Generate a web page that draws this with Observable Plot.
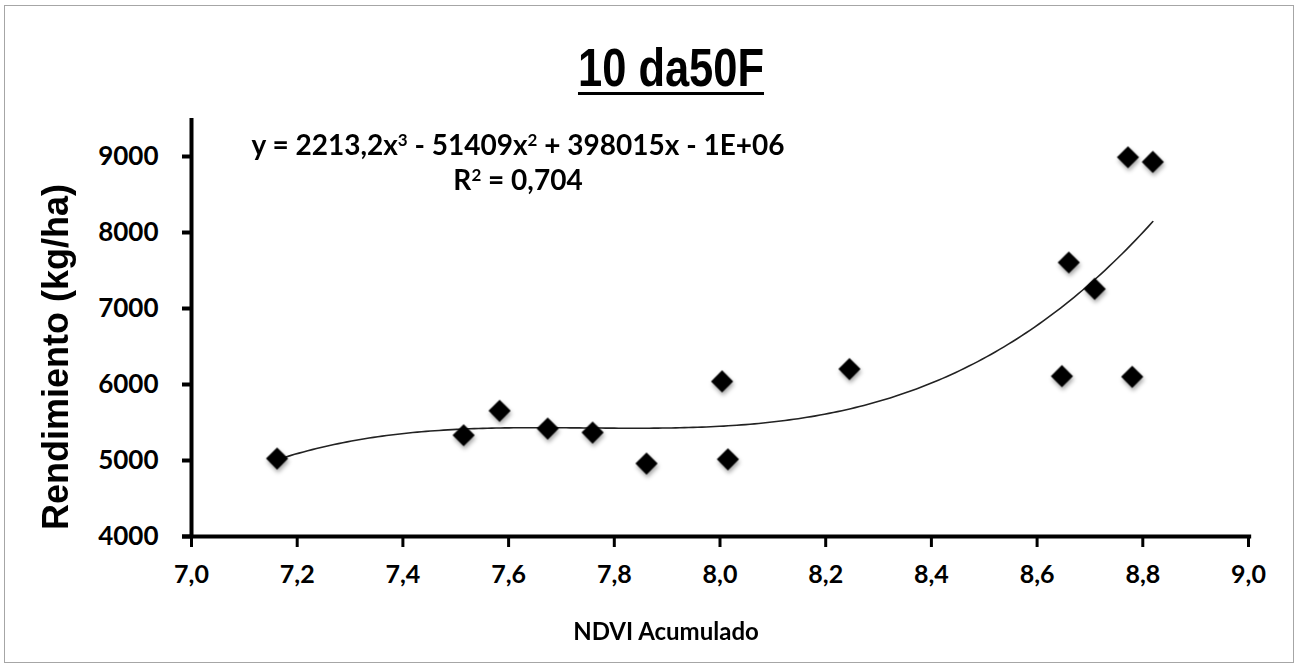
<!DOCTYPE html>
<html>
<head>
<meta charset="utf-8">
<script src="https://cdn.jsdelivr.net/npm/d3@7"></script>
<script src="https://cdn.jsdelivr.net/npm/@observablehq/plot@0.6"></script>
<style>
  html, body { margin: 0; padding: 0; background: #fff; }
  #wrap { position: relative; width: 1299px; height: 668px; overflow: hidden; }
  #border { position: absolute; left: 4px; top: 5px; width: 1290px; height: 658px; border: 1.5px solid #a6a6a6; box-sizing: border-box; }
  .t { position: absolute; white-space: nowrap; color: #000; }
  #title { left: 671px; top: 37px; transform: translateX(-50%) scaleX(0.82); font: bold 53px "Liberation Sans", Arial, sans-serif; text-decoration: underline; text-underline-offset: 6px; text-decoration-thickness: 3px; }
  #eq1 { left: 518px; top: 127px; transform: translateX(-50%); font: bold 28px Lato, "Open Sans", sans-serif; }
  #eq2 { left: 518px; top: 162px; transform: translateX(-50%); font: bold 28px Lato, "Open Sans", sans-serif; }
  sup { font-size: 17px; vertical-align: 9px; line-height: 0; }
  #ylab { left: 56px; top: 357px; transform: translate(-50%, -50%) rotate(-90deg); font: bold 36px "Liberation Sans", Arial, sans-serif; }
  #xlab { left: 666px; top: 616px; transform: translateX(-50%); font: bold 24px Lato, "Open Sans", sans-serif; }
  svg .dots { filter: drop-shadow(1px 3px 2px rgba(0,0,0,0.35)); }
  #chart { position: absolute; left: 0; top: 0; }
</style>
</head>
<body>
<div id="wrap">
  <div id="chart"></div>
  <div id="border"></div>
  <div class="t" id="title">10 da50F</div>
  <div class="t" id="eq1">y = 2213,2x<sup>3</sup> - 51409x<sup>2</sup> + 398015x - 1E+06</div>
  <div class="t" id="eq2">R<sup>2</sup> = 0,704</div>
  <div class="t" id="ylab">Rendimiento (kg/ha)</div>
  <div class="t" id="xlab">NDVI Acumulado</div>
</div>
<script>
const ndvi = [7.162, 7.515, 7.583, 7.674, 7.759, 7.861, 8.004, 8.015, 8.245, 8.647, 8.660, 8.709, 8.772, 8.780, 8.819];
const rendimiento = [5025, 5332, 5653, 5420, 5368, 4959, 6040, 5016, 6203, 6110, 7605, 7258, 8990, 6101, 8929];
const xTicks = [7.0, 7.2, 7.4, 7.6, 7.8, 8.0, 8.2, 8.4, 8.6, 8.8, 9.0];
const yTicks = [4000, 5000, 6000, 7000, 8000, 9000];

const points = ndvi.map((x, i) => ({x, y: rendimiento[i]}));

// least-squares cubic trendline fitted to the points (as the spreadsheet trendline)
function cubicFit(xs, ys) {
  const c = 8;
  const n = 4;
  const A = Array.from({length: n}, () => new Array(n + 1).fill(0));
  xs.forEach((x0, k) => {
    const x = x0 - c;
    const p = [1, x, x * x, x * x * x];
    for (let i = 0; i < n; i++) {
      for (let j = 0; j < n; j++) A[i][j] += p[i] * p[j];
      A[i][n] += p[i] * ys[k];
    }
  });
  for (let i = 0; i < n; i++) {
    let m = i;
    for (let r = i + 1; r < n; r++) if (Math.abs(A[r][i]) > Math.abs(A[m][i])) m = r;
    [A[i], A[m]] = [A[m], A[i]];
    for (let r = 0; r < n; r++) {
      if (r === i) continue;
      const f = A[r][i] / A[i][i];
      for (let j = i; j <= n; j++) A[r][j] -= f * A[i][j];
    }
  }
  const b = A.map((row, i) => row[n] / row[i]);
  return x => { const t = x - c; return b[0] + b[1] * t + b[2] * t * t + b[3] * t * t * t; };
}
const f = cubicFit(ndvi, rendimiento);
const x0 = d3.min(ndvi), x1 = d3.max(ndvi);
const curve = d3.range(0, 201).map(i => { const x = x0 + (x1 - x0) * i / 200; return {x, y: f(x)}; });

const fmtX = d => d.toFixed(1).replace(".", ",");
const fmtY = d => String(d);

const plot = Plot.plot({
  width: 1299,
  height: 668,
  marginLeft: 191,
  marginRight: 51,
  marginTop: 118,
  marginBottom: 132,
  style: {background: "transparent", overflow: "visible"},
  x: {domain: [7, 9]},
  y: {domain: [4000, 9500]},
  marks: [
    Plot.axisY({ticks: yTicks, tickSize: 9, tickPadding: 24, strokeWidth: 4, label: null, tickFormat: fmtY, fontSize: 26, fontWeight: "bold", fontFamily: "Lato, 'Open Sans', sans-serif", color: "#000"}),
    Plot.axisX({ticks: xTicks, tickSize: 11, tickPadding: 18, strokeWidth: 3, label: null, tickFormat: fmtX, fontSize: 25, fontWeight: "bold", fontFamily: "Lato, 'Open Sans', sans-serif", color: "#000"}),
    Plot.ruleX([7], {stroke: "#000", strokeWidth: 4, y1: 4000, y2: 9500}),
    Plot.ruleY([4000], {stroke: "#000", strokeWidth: 4, x1: 6.983, x2: 9.006}),
    Plot.line(curve, {x: "x", y: "y", stroke: "#222", strokeWidth: 1.6, curve: "linear"}),
    Plot.dot(points, {x: "x", y: "y", symbol: "diamond2", r: 10, fill: "#000", stroke: "none", className: "dots"})
  ]
});
document.getElementById("chart").appendChild(plot);
</script>
</body>
</html>
